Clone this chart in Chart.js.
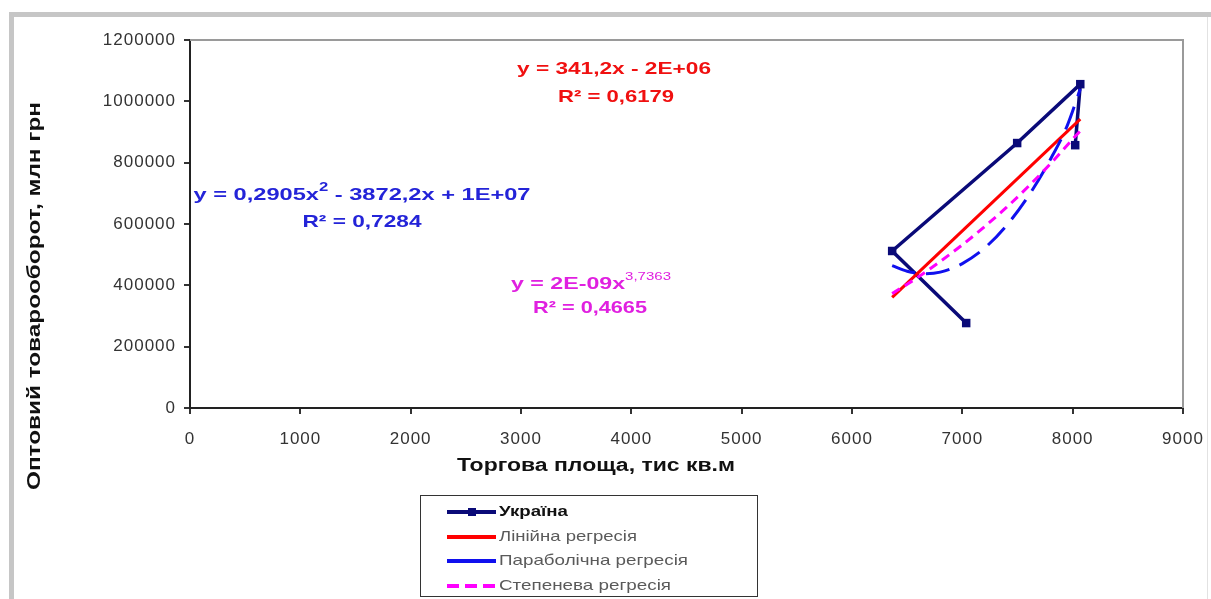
<!DOCTYPE html>
<html><head><meta charset="utf-8">
<script src="https://cdn.jsdelivr.net/npm/chart.js@4"></script>
<style>html,body{margin:0;padding:0;background:#fff;overflow:hidden}#wrap{width:1211px;height:599px;position:relative}</style>
</head><body><div id="wrap"><canvas id="c" width="1211" height="599"></canvas></div>
<script>
// ---- data ----
const ukraineX = [7035, 6364, 7497, 8069, 8023];
const ukraineY = [277000, 512000, 864000, 1056000, 857000];
const linearX = [6364, 8069];
const linearY = [361000, 942000];
const parabolaX = [6364, 6500, 6665, 6800, 7000, 7200, 7400, 7600, 7800, 7950, 8069];
const parabolaY = [464000, 446000, 438000, 443000, 471000, 521000, 595000, 692000, 812000, 920000, 1040000];
const powerX = [6364, 6600, 6800, 7000, 7200, 7400, 7600, 7800, 8069];
const powerY = [373000, 427000, 478000, 532000, 591000, 654000, 723000, 797000, 904000];
const xTicks = [0, 1000, 2000, 3000, 4000, 5000, 6000, 7000, 8000, 9000];
const yTicks = [0, 200000, 400000, 600000, 800000, 1000000, 1200000];
const seriesNames = ['Україна', 'Лінійна регресія', 'Параболічна регресія', 'Степенева регресія'];
const xTitle = 'Торгова площа, тис кв.м';
const yTitle = 'Оптовий товарооборот, млн грн';
const linearEq = [{t: 'y = 341,2x - 2E+06'}];
const linearR2 = 'R² = 0,6179';
const parabolaEq = [{t: 'y = 0,2905x'}, {t: '2', sup: true}, {t: ' - 3872,2x + 1E+07'}];
const parabolaR2 = 'R² = 0,7284';
const powerEq = [{t: 'y = 2E-09x'}, {t: '3,7363', sup: true}];
const powerR2 = 'R² = 0,4665';

const pts = (xs, ys) => xs.map((x, i) => ({x: x, y: ys[i]}));
const FAM = '"Liberation Sans", Arial, sans-serif';

// draws text segments stretched horizontally to a target width (reference text is wide)
function drawFit(ctx, segs, cx, cy, target, font, supFont, color) {
  ctx.save();
  ctx.fillStyle = color;
  ctx.textBaseline = 'middle';
  ctx.textAlign = 'left';
  ctx.letterSpacing = '0px';
  let total = 0;
  const widths = segs.map(s => { ctx.font = s.sup ? supFont : font; const w = ctx.measureText(s.t).width; total += w; return w; });
  const sx = target / total;
  ctx.translate(cx - target / 2, cy);
  ctx.scale(sx, 1);
  let x = 0;
  segs.forEach((s, i) => {
    ctx.font = s.sup ? supFont : font;
    ctx.fillText(s.t, x, s.sup ? -7 : 0);
    x += widths[i];
  });
  ctx.restore();
}

const decor = {
  id: 'decor',
  beforeDraw(chart) {
    const ctx = chart.ctx;
    ctx.save();
    ctx.fillStyle = '#fff';
    ctx.fillRect(0, 0, chart.width, chart.height);
    ctx.fillStyle = '#c6c6c6';
    ctx.fillRect(9, 12, chart.width - 9, 5);
    ctx.fillRect(9, 12, 5, chart.height - 12);
    ctx.fillStyle = '#e2e2e2';
    ctx.fillRect(1207, 17, 1, chart.height - 17);
    ctx.restore();
    ctx.letterSpacing = '1px';
  },
  beforeDatasetsDraw(chart) {
    const ctx = chart.ctx, a = chart.chartArea;
    ctx.save();
    ctx.strokeStyle = '#9a9a9a';
    ctx.lineWidth = 2;
    ctx.beginPath();
    ctx.moveTo(a.left, a.top);
    ctx.lineTo(a.right, a.top);
    ctx.lineTo(a.right, a.bottom);
    ctx.stroke();
    ctx.restore();
  },
  afterDraw(chart) {
    const ctx = chart.ctx;
    const bold = 'bold 17px ' + FAM;
    const sup = 'bold 11px ' + FAM;
    drawFit(ctx, linearEq, 614, 69, 194, bold, sup, '#f01010');
    drawFit(ctx, [{t: linearR2}], 616, 97, 116, bold, sup, '#f01010');
    drawFit(ctx, parabolaEq, 362, 195, 337, bold, 'bold 12px ' + FAM, '#2424d8');
    drawFit(ctx, [{t: parabolaR2}], 362, 222, 119, bold, sup, '#2424d8');
    drawFit(ctx, powerEq, 591, 284, 160, bold, '11px ' + FAM, '#e020e0');
    drawFit(ctx, [{t: powerR2}], 590, 308, 114, bold, sup, '#e020e0');
    // axis titles
    const tfont = 'bold 18px ' + FAM;
    drawFit(ctx, [{t: xTitle}], 596, 466, 278, tfont, tfont, '#111');
    ctx.save();
    ctx.translate(35, 296);
    ctx.rotate(-Math.PI / 2);
    drawFit(ctx, [{t: yTitle}], 0, 0, 388, tfont, tfont, '#111');
    ctx.restore();
    // legend box
    ctx.save();
    ctx.letterSpacing = '0px';
    ctx.strokeStyle = '#333';
    ctx.lineWidth = 1;
    ctx.strokeRect(420.5, 495.5, 337, 101);
    const rows = [512, 537, 561, 586];
    const textW = [69, 138, 189, 172];
    chart.data.datasets.forEach((ds, i) => {
      const y = rows[i];
      ctx.save();
      ctx.strokeStyle = ds.borderColor;
      ctx.lineWidth = 4;
      ctx.setLineDash(i === 3 ? [12, 6] : []);
      ctx.beginPath();
      ctx.moveTo(447, y);
      ctx.lineTo(i === 3 ? 500 : 496, y);
      ctx.stroke();
      if (i === 0) {
        ctx.fillStyle = ds.borderColor;
        ctx.fillRect(468, y - 4, 8, 8);
      }
      ctx.restore();
      drawFit(ctx, [{t: ds.label}], 499 + textW[i] / 2, y, textW[i], (i === 0 ? 'bold ' : '') + '15px ' + FAM, '15px ' + FAM, i === 0 ? '#111' : '#5a5a5a');
    });
    ctx.restore();
  }
};

const tickFont = {family: '"Liberation Sans", Arial, sans-serif', size: 17};
new Chart(document.getElementById('c'), {
  type: 'scatter',
  data: {
    datasets: [
      {label: seriesNames[0], data: pts(ukraineX, ukraineY), showLine: true, borderColor: '#0a0a78', backgroundColor: '#0a0a78',
       borderWidth: 3.5, pointStyle: 'rect', pointRadius: 6, pointBorderWidth: 0, order: 4},
      {label: seriesNames[1], data: pts(linearX, linearY), showLine: true, borderColor: '#ff0000', borderWidth: 3, pointRadius: 0, order: 3},
      {label: seriesNames[2], data: pts(parabolaX, parabolaY), showLine: true, borderColor: '#1010ee', borderWidth: 3, pointRadius: 0,
       borderDash: [24, 11], cubicInterpolationMode: 'monotone', order: 2},
      {label: seriesNames[3], data: pts(powerX, powerY), showLine: true, borderColor: '#ff00ff', borderWidth: 3, pointRadius: 0,
       borderDash: [9, 6], cubicInterpolationMode: 'monotone', order: 1}
    ]
  },
  options: {
    responsive: false,
    animation: false,
    devicePixelRatio: 1,
    layout: {padding: {left: 0, top: 40, right: 28, bottom: 151}},
    plugins: {legend: {display: false}, tooltip: {enabled: false}},
    scales: {
      x: {
        type: 'linear', min: 0, max: 9000,
        afterBuildTicks: s => { s.ticks = xTicks.map(v => ({value: v})); },
        afterFit: s => { s.height = 40; s.paddingLeft = 0; s.paddingRight = 0; },
        ticks: {font: tickFont, color: '#333', padding: 15, maxRotation: 0, autoSkip: false, callback: v => String(v)},
        grid: {drawOnChartArea: false, tickLength: 6, color: '#333', lineWidth: 2},
        border: {color: '#222', width: 2}
      },
      y: {
        type: 'linear', min: 0, max: 1200000,
        afterBuildTicks: s => { s.ticks = yTicks.map(v => ({value: v})); },
        afterFit: s => { s.width = 190; s.paddingTop = 0; s.paddingBottom = 0; },
        ticks: {font: tickFont, color: '#333', padding: 8, autoSkip: false, callback: v => String(v)},
        grid: {drawOnChartArea: false, tickLength: 6, color: '#333', lineWidth: 2},
        border: {color: '#222', width: 2}
      }
    }
  },
  plugins: [decor]
});
</script>
</body></html>
